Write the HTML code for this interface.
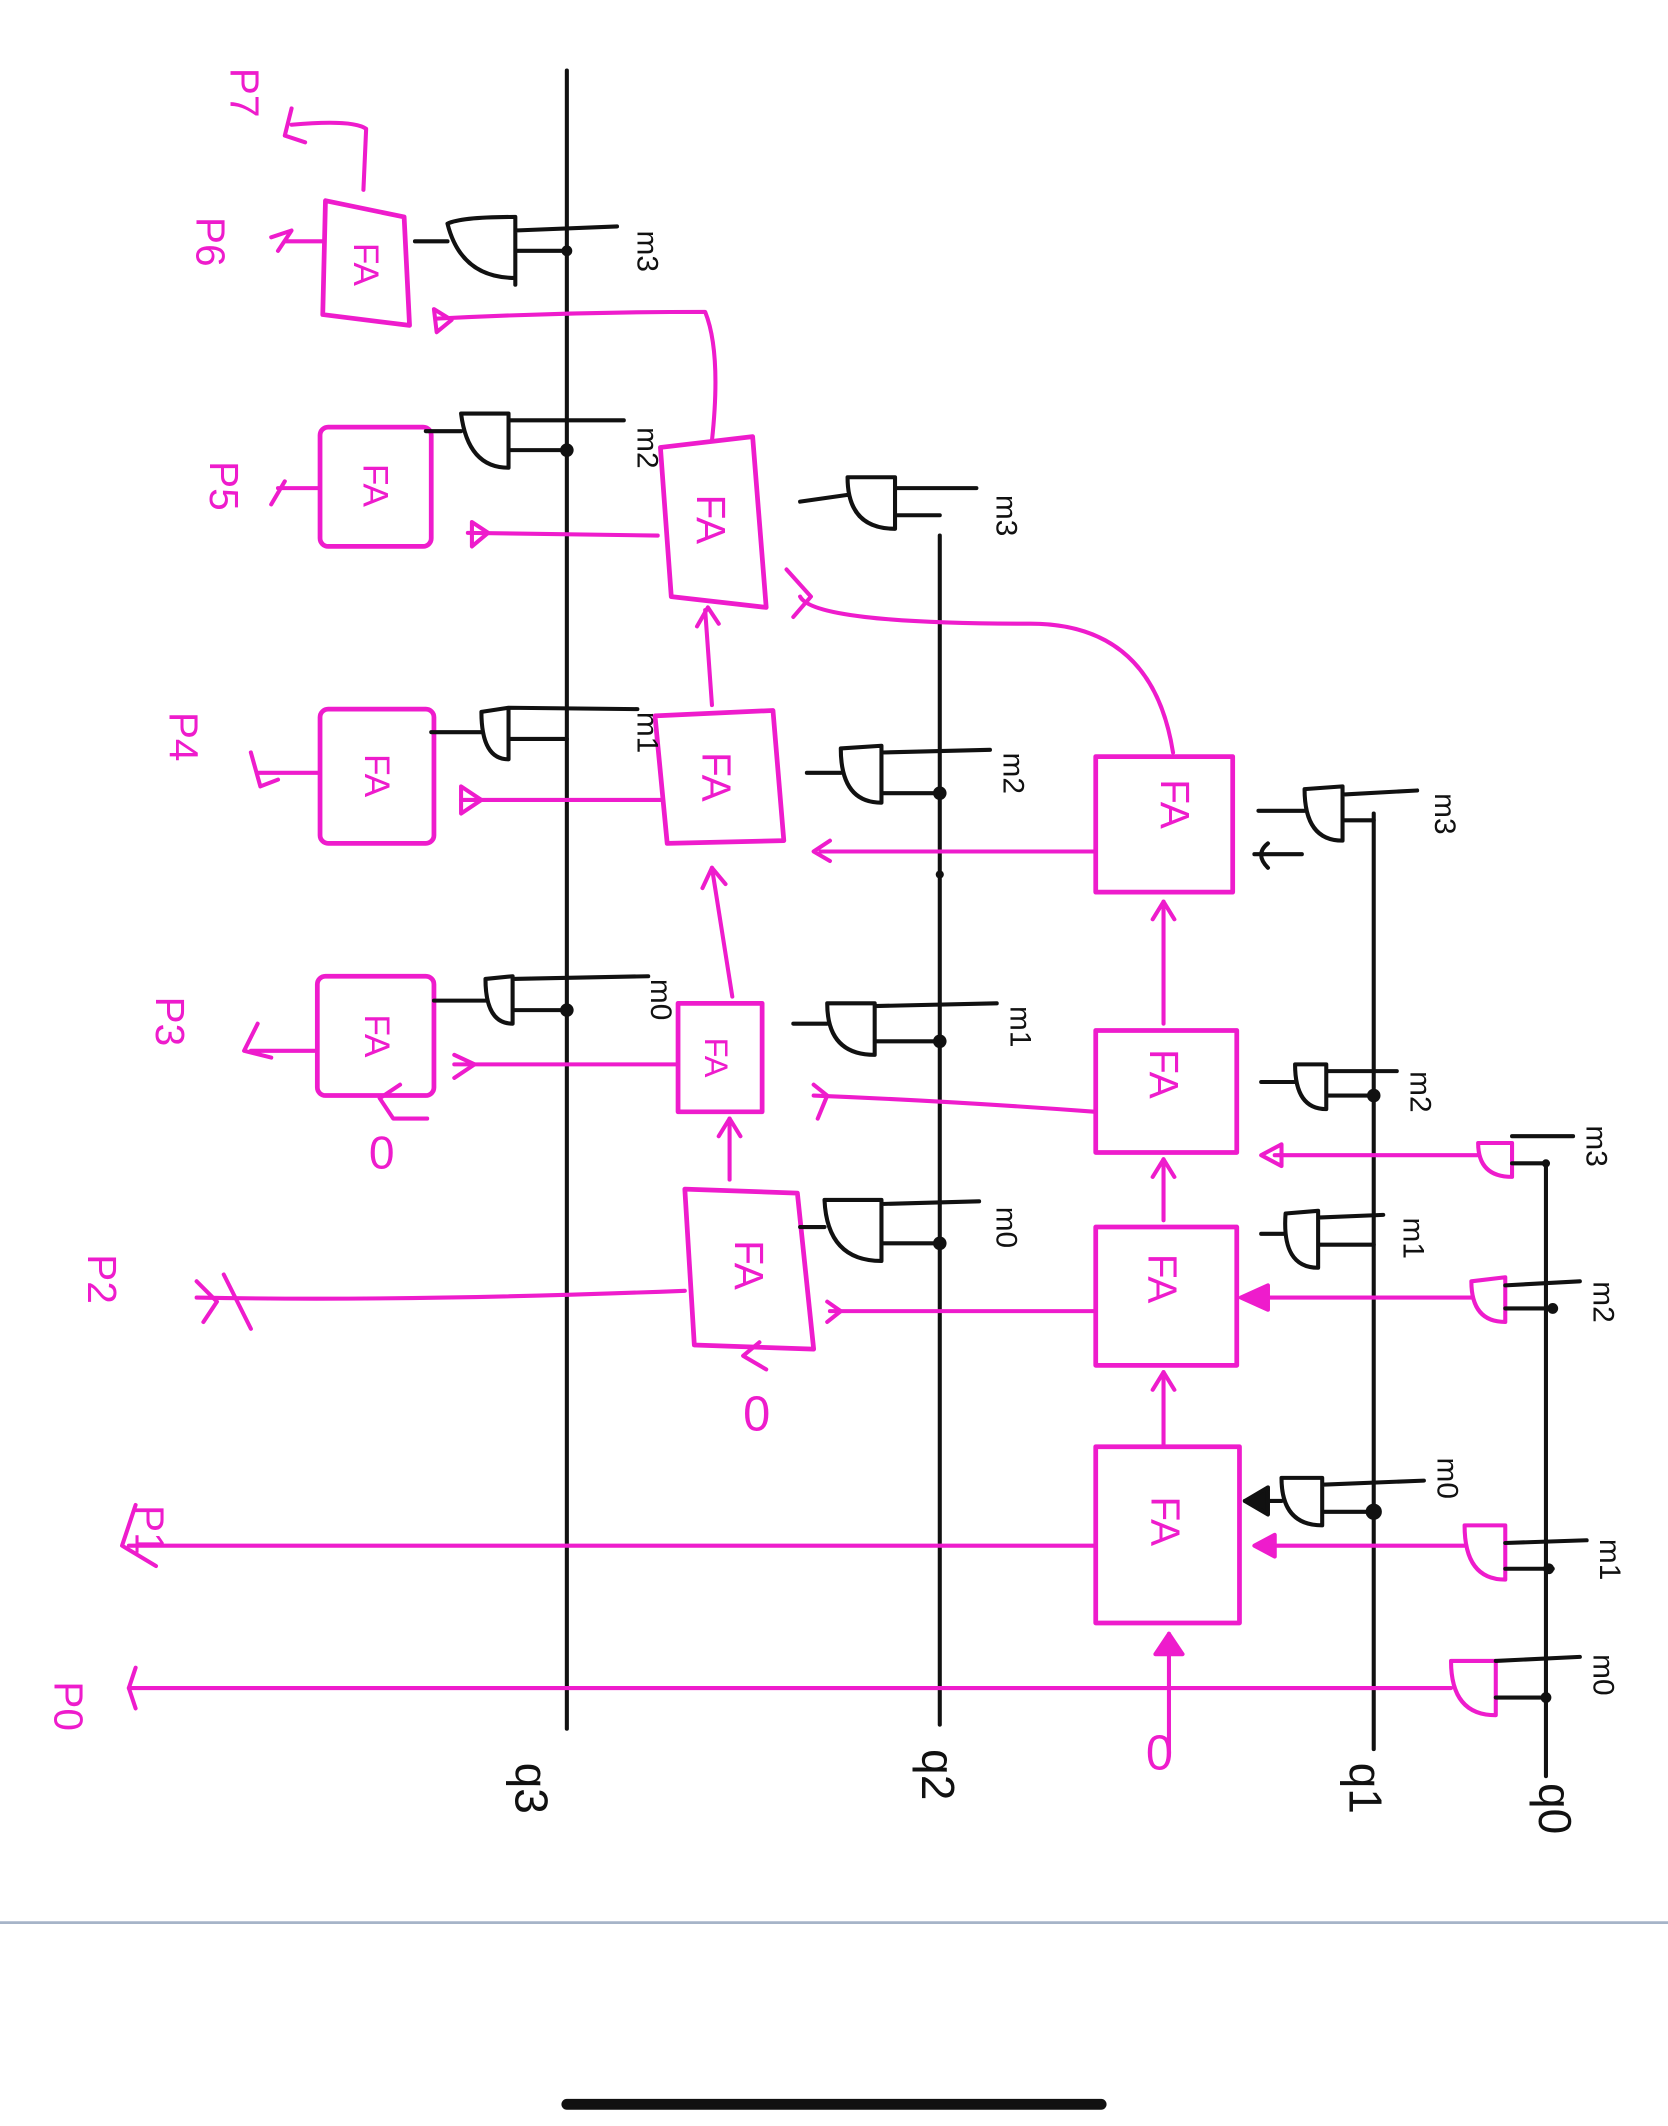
<!DOCTYPE html>
<html><head><meta charset="utf-8"><style>
html,body{margin:0;padding:0;background:#fff;}
svg{display:block;}
</style></head><body>
<svg width="1668" height="2126" viewBox="0 0 1230 1568" xmlns="http://www.w3.org/2000/svg" preserveAspectRatio="none">
<g fill="none" stroke-linecap="round" stroke-linejoin="round">
<!-- black bus lines -->
<g stroke="#111" stroke-width="3">
<path d="M418 52 L418 1275"/>
<path d="M693 395 L693 1272"/>
<path d="M1013 600 L1013 1290"/>
<path d="M1140 860 L1140 1310"/>
</g>
<!-- magenta wires -->
<g stroke="#ee1ccc" stroke-width="3">
<path d="M95 1245 L1070 1245"/>
<path d="M95 1140 L808 1140"/>
<path d="M145 957 Q300 960 505 952"/>
<path d="M612 967 L808 967"/>
<path d="M600 808 Q700 812 808 820"/>
<path d="M605 628 L808 628"/>
<path d="M340 590 L487 590"/>
<path d="M335 785 L500 785"/>
<path d="M345 393 L485 395"/>
<path d="M322 235 Q420 230 520 230 Q532 260 525 325"/>
<path d="M590 440 Q600 460 760 460 Q850 460 865 555"/>
<path d="M862 1290 L862 1205"/><path d="M852 1220 L862 1205 L872 1220 Z" fill="#ee1ccc"/>
<path d="M858 1065 L858 1012"/><path d="M850 1025 L858 1012 L866 1025"/>
<path d="M858 900 L858 855"/><path d="M850 868 L858 855 L866 868"/>
<path d="M858 755 L858 665"/><path d="M850 678 L858 665 L866 678"/>
<path d="M538 870 L538 825"/><path d="M530 838 L538 825 L546 838"/>
<path d="M540 735 L525 640"/><path d="M518 655 L525 640 L535 652"/>
<path d="M525 520 L520 450"/><path d="M514 462 L522 448 L530 460"/>
<path d="M938 1140 L1080 1140"/><path d="M925 1140 L940 1132 L940 1148 Z" fill="#ee1ccc"/>
<path d="M930 957 L1085 957"/><path d="M915 957 L935 948 L935 966 Z" fill="#ee1ccc"/>
<path d="M940 852 L1090 852"/><path d="M930 852 L945 844 L945 860 Z"/>
<path d="M100 1110 L90 1140 L115 1155"/><path d="M100 1230 L95 1245 L100 1260"/>
<path d="M145 945 L160 960 L150 975 M165 940 L185 980"/>
<path d="M190 755 L180 775 L200 780 M185 775 L232 775"/>
<path d="M185 555 L192 580 L205 575 M190 570 L235 570"/>
<path d="M200 372 L210 355 M205 360 L235 360"/>
<path d="M200 175 L215 170 L205 185 M210 178 L238 178"/>
<path d="M215 80 L210 100 L225 105 M215 92 Q260 88 270 95 L268 140"/>
<path d="M280 810 L290 825 L315 825 M280 810 L295 800"/>
<path d="M560 990 L548 1000 L565 1010"/>
<path d="M348 385 L360 393 L348 403 Z M340 580 L355 590 L340 600 Z M335 778 L350 785 L335 795 M320 228 L333 236 L322 245 Z"/>
<path d="M612 620 L600 628 L612 635 M610 960 L620 967 L610 975 M600 800 L610 808 L603 825 M580 420 L598 440 L585 455"/>
</g>
<!-- FA boxes -->
<g stroke="#ee1ccc" stroke-width="3.5">
<rect x="808" y="558" width="101" height="100"/>
<rect x="808" y="760" width="104" height="90"/>
<rect x="808" y="905" width="104" height="102"/>
<rect x="808" y="1067" width="106" height="130"/>
<path d="M487 330 L555 322 L565 448 L495 440 Z"/>
<path d="M483 528 L570 524 L578 620 L492 622 Z"/>
<rect x="500" y="740" width="62" height="80"/>
<path d="M505 877 L588 880 L600 995 L512 992 Z"/>
<path d="M240 148 L298 160 L302 240 L238 232 Z"/>
<rect x="236" y="315" width="82" height="88" rx="6"/>
<rect x="236" y="523" width="84" height="99" rx="6"/>
<rect x="234" y="720" width="86" height="88" rx="6"/>
</g>
<!-- AND gates -->
<g stroke="#111" stroke-width="3">
<path d="M306 178 L330 178 M330 165 Q340 205 380 205 L380 160 Q340 160 330 165 M380 170 L455 167 M380 185 L420 185 M380 205 L380 210"/>
<path d="M314 318 L340 318 M340 305 Q345 345 375 345 L375 305 Z M375 310 L460 310 M375 332 L418 332"/>
<path d="M318 540 L355 540 M355 525 Q355 560 375 560 L375 522 Z M375 522 L470 523 M375 545 L418 545"/>
<path d="M320 738 L358 738 M358 722 Q358 755 378 755 L378 720 Z M378 722 L478 720 M378 745 L418 745"/>
<path d="M590 370 L625 365 M625 352 Q625 390 660 390 L660 352 Z M660 360 L720 360 M660 380 L693 380"/>
<path d="M595 570 L620 570 M620 552 Q620 592 650 592 L650 550 Z M650 555 L730 553 M650 585 L693 585"/>
<path d="M585 755 L610 755 M610 740 Q610 778 645 778 L645 740 Z M645 742 L735 740 M645 768 L693 768"/>
<path d="M590 905 L608 905 M608 885 Q610 930 650 930 L650 885 Z M650 888 L722 886 M650 917 L693 917"/>
<path d="M928 598 L962 598 M962 582 Q962 620 990 620 L990 580 Z M990 586 L1045 583 M990 605 L1013 605"/>
<path d="M930 798 L955 798 M955 785 Q955 818 978 818 L978 785 Z M978 790 L1030 790 M978 808 L1013 808"/>
<path d="M930 910 L948 910 M948 895 Q945 935 972 935 L972 893 Z M972 898 L1020 896 M972 918 L1013 918"/>
<path d="M918 1107 L945 1107 M945 1090 Q945 1125 975 1125 L975 1090 Z M975 1095 L1050 1092 M975 1115 L1013 1115"/>
<path d="M925 630 L960 630 M935 622 Q925 630 935 640"/>
<path d="M935 1097 L918 1107 L935 1117 Z" fill="#111"/>
</g>
<g stroke="#ee1ccc" stroke-width="3">
<path d="M1090 843 Q1090 868 1115 868 L1115 843 Z"/>
<path d="M1085 945 Q1085 975 1110 975 L1110 942 Z"/>
<path d="M1080 1125 Q1080 1165 1110 1165 L1110 1125 Z"/>
<path d="M1070 1225 Q1070 1265 1103 1265 L1103 1225 Z"/>
</g>
<g stroke="#111" stroke-width="3">
<path d="M1115 838 L1160 838 M1115 858 L1140 858"/>
<path d="M1110 948 L1165 945 M1110 965 L1145 965"/>
<path d="M1110 1138 L1170 1136 M1110 1157 L1145 1157"/>
<path d="M1103 1225 L1165 1222 M1103 1252 L1142 1252"/>
</g>
<g fill="#111">
<circle cx="418" cy="185" r="4"/><circle cx="418" cy="332" r="5"/><circle cx="418" cy="745" r="5"/>
<circle cx="693" cy="585" r="5"/><circle cx="693" cy="768" r="5"/><circle cx="693" cy="917" r="5"/><circle cx="693" cy="645" r="3"/>
<circle cx="1013" cy="808" r="5"/><circle cx="1013" cy="1115" r="6"/>
<circle cx="1140" cy="858" r="3"/><circle cx="1145" cy="965" r="4"/><circle cx="1142" cy="1157" r="4"/><circle cx="1140" cy="1252" r="4"/>
</g>
</g>
<!-- FA labels -->
<g font-family="Liberation Sans, sans-serif" fill="#ee1ccc" font-size="30">
<text x="843" y="610" transform="rotate(90 858 608)" text-anchor="middle">FA</text>
<text x="845" y="815" transform="rotate(90 858 805)" text-anchor="middle">FA</text>
<text x="845" y="967" transform="rotate(90 858 956)" text-anchor="middle">FA</text>
<text x="850" y="1143" transform="rotate(90 860 1132)" text-anchor="middle">FA</text>
<text x="520" y="393" transform="rotate(90 522 385)" text-anchor="middle">FA</text>
<text x="530" y="585" transform="rotate(90 530 573)" text-anchor="middle">FA</text>
<text x="530" y="790" transform="rotate(90 530 780)" text-anchor="middle" font-size="24">FA</text>
<text x="550" y="945" transform="rotate(90 552 935)" text-anchor="middle">FA</text>
<text x="268" y="202" transform="rotate(90 268 195)" text-anchor="middle" font-size="26">FA</text>
<text x="276" y="366" transform="rotate(90 276 358)" text-anchor="middle" font-size="26">FA</text>
<text x="277" y="580" transform="rotate(90 277 572)" text-anchor="middle" font-size="26">FA</text>
<text x="277" y="772" transform="rotate(90 277 764)" text-anchor="middle" font-size="26">FA</text>
</g>
<g font-family="Liberation Sans, sans-serif" fill="#ee1ccc" font-size="30">
<text x="40" y="1240" transform="rotate(90 40 1240)">P0</text>
<text x="100" y="1110" transform="rotate(90 100 1110)">P1</text>
<text x="65" y="925" transform="rotate(90 65 925)">P2</text>
<text x="115" y="735" transform="rotate(90 115 735)">P3</text>
<text x="125" y="525" transform="rotate(90 125 525)">P4</text>
<text x="155" y="340" transform="rotate(90 155 340)">P5</text>
<text x="145" y="160" transform="rotate(90 145 160)">P6</text>
<text x="170" y="50" transform="rotate(90 170 50)">P7</text>
<text x="845" y="1305" font-size="36">0</text>
<text x="548" y="1055" font-size="36">0</text>
<text x="272" y="862" font-size="34">0</text>
</g>
<g font-family="Liberation Sans, sans-serif" fill="#111" font-size="34">
<text x="360" y="1300" transform="rotate(90 370 1310)">q3</text>
<text x="660" y="1290" transform="rotate(90 670 1300)">q2</text>
<text x="975" y="1300" transform="rotate(90 985 1310)">q1</text>
<text x="1115" y="1315" transform="rotate(90 1125 1325)">q0</text>
</g>
<g font-family="Liberation Sans, sans-serif" fill="#111" font-size="22">
<text x="460" y="170" transform="rotate(90 465 175)">m3</text>
<text x="460" y="315" transform="rotate(90 465 320)">m2</text>
<text x="460" y="525" transform="rotate(90 465 530)">m1</text>
<text x="470" y="722" transform="rotate(90 475 727)">m0</text>
<text x="725" y="365" transform="rotate(90 730 370)">m3</text>
<text x="730" y="555" transform="rotate(90 735 560)">m2</text>
<text x="735" y="742" transform="rotate(90 740 747)">m1</text>
<text x="725" y="890" transform="rotate(90 730 895)">m0</text>
<text x="1048" y="585" transform="rotate(90 1053 590)">m3</text>
<text x="1030" y="790" transform="rotate(90 1035 795)">m2</text>
<text x="1025" y="898" transform="rotate(90 1030 903)">m1</text>
<text x="1050" y="1075" transform="rotate(90 1055 1080)">m0</text>
<text x="1160" y="830" transform="rotate(90 1165 835)">m3</text>
<text x="1165" y="945" transform="rotate(90 1170 950)">m2</text>
<text x="1170" y="1135" transform="rotate(90 1175 1140)">m1</text>
<text x="1165" y="1220" transform="rotate(90 1170 1225)">m0</text>
</g>
<path d="M0 1418 L1230 1418" stroke="#a6b4c8" stroke-width="2"/>
<rect x="414" y="1548" width="402" height="8" rx="4" fill="#111"/>
</svg>
</body></html>
